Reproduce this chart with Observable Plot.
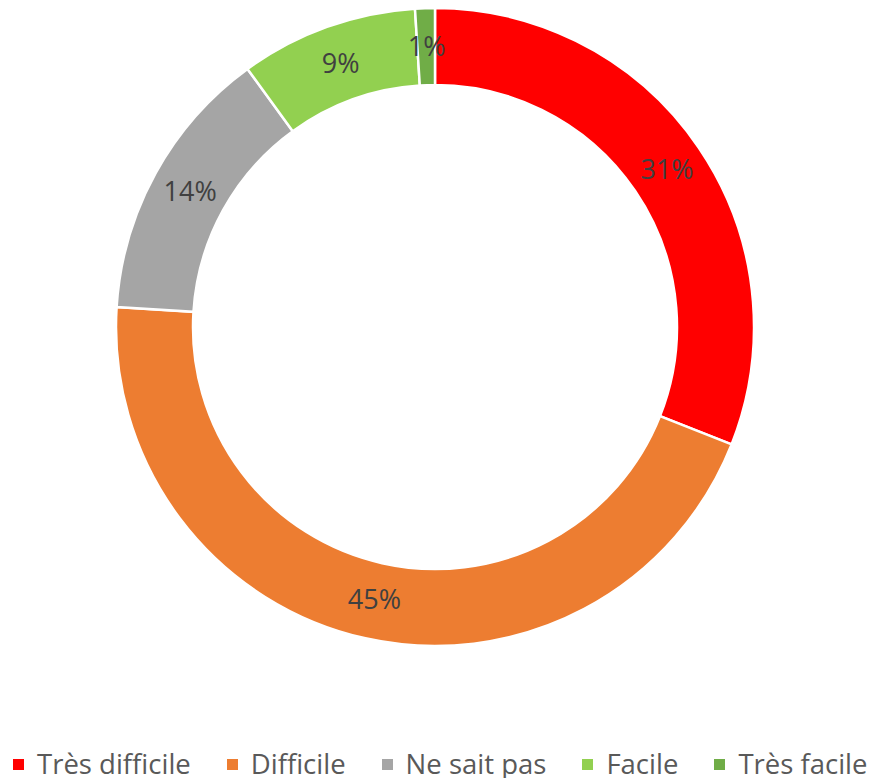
<!DOCTYPE html>
<html><head><meta charset="utf-8">
<script src="https://cdn.jsdelivr.net/npm/d3@7"></script>
<script src="https://cdn.jsdelivr.net/npm/@observablehq/plot@0.6"></script>
<style>
body{margin:0;background:#fff;overflow:hidden;}
#chart svg{display:block}
#legend{margin-top:50px;padding-left:13px;width:876px;box-sizing:border-box;}
#legend div{font-family:"Open Sans",sans-serif !important;font-size:27.5px !important;line-height:28px !important;min-height:0 !important;color:#595959 !important;margin:0 !important;flex-wrap:nowrap !important;white-space:nowrap;}
#legend span{margin-right:36px !important;line-height:28px !important;}
#legend span:last-child{margin-right:0 !important;}
#legend span > svg{margin-right:13px !important;}
</style></head><body><div id="chart"></div><div id="legend"></div>
<script>
const categories = ["Très difficile","Difficile","Ne sait pas","Facile","Très facile"];
const values = [31,45,14,9,1];
const labels = ["31%","45%","14%","9%","1%"];
const colors = ["#FF0000","#ED7D31","#A5A5A5","#92D050","#70AD47"];

const total = d3.sum(values);
let acc = 0;
const slices = categories.map((c,i)=>{
  const a0 = acc/total*2*Math.PI; acc += values[i];
  const a1 = acc/total*2*Math.PI;
  return {category:c, value:values[i], label:labels[i], a0, a1, mid:(a0+a1)/2};
});

const R = 319, r0 = 242, Rl = 280;

function ring(data) {
  return (index, scales) => {
    const x = scales.x, y = scales.y;
    const color = scales.color || (c => colors[categories.indexOf(c)]);
    const cx = x(0), cy = y(0);
    const k = Math.abs(x(1) - x(0));
    const arc = d3.arc().innerRadius(r0*k).outerRadius(R*k);
    const g = d3.create("svg:g").attr("transform", `translate(${cx},${cy})`);
    g.selectAll("path").data(data).join("path")
      .attr("d", d => arc({startAngle: d.a0, endAngle: d.a1}))
      .attr("fill", d => color(d.category))
      .attr("stroke", "#fff").attr("stroke-width", 2.5);
    return g.node();
  };
}

const plot = Plot.plot({
  width: 876, height: 700,
  marginTop: 0, marginBottom: 0, marginLeft: 0, marginRight: 6,
  x: {domain: [-435, 435], axis: null},
  y: {domain: [-373, 327], axis: null},
  color: {domain: categories, range: colors},
  style: {background: "#fff"},
  marks: [
    Plot.dot(slices, {x: 0, y: 0, r: 0, fill: "category"}),
    ring(slices),
    Plot.text(slices, {
      x: d => Rl*Math.sin(d.mid), y: d => Rl*Math.cos(d.mid),
      text: "label", fill: "#404040", fontSize: 27, fontFamily: "Open Sans"
    })
  ]
});
document.getElementById("chart").appendChild(plot);

const leg = Plot.legend({
  color: {domain: categories, range: colors},
  swatchSize: 11,
  style: {fontSize: "27.5px", fontFamily: "Open Sans", color: "#595959"}
});
document.getElementById("legend").appendChild(leg);
</script></body></html>
